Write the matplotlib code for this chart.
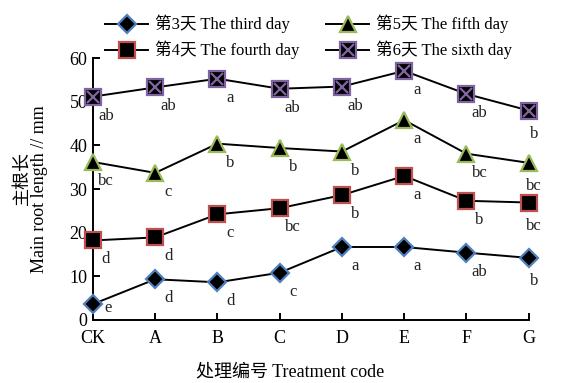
import numpy as np
import matplotlib.pyplot as plt
from matplotlib.legend_handler import HandlerTuple

plt.rcParams['font.family'] = ['Liberation Serif', 'Noto Sans CJK SC']

# Data
treatments = ['CK', 'A', 'B', 'C', 'D', 'E', 'F', 'G']
day3 = [3.6, 9.3, 8.6, 10.8, 16.7, 16.7, 15.4, 14.2]
day4 = [18.2, 18.9, 24.2, 25.6, 28.6, 33.0, 27.3, 26.9]
day5 = [36.2, 33.7, 40.4, 39.4, 38.6, 45.8, 38.1, 36.0]
day6 = [51.2, 53.3, 55.3, 53.0, 53.5, 57.1, 51.8, 48.0]
sig3 = ['e', 'd', 'd', 'c', 'a', 'a', 'ab', 'b']
sig4 = ['d', 'd', 'c', 'bc', 'b', 'a', 'b', 'bc']
sig5 = ['bc', 'c', 'b', 'b', 'b', 'a', 'bc', 'bc']
sig6 = ['ab', 'ab', 'a', 'ab', 'ab', 'a', 'ab', 'b']
labels = ['第3天 The third day', '第4天 The fourth day',
          '第5天 The fifth day', '第6天 The sixth day']

fig = plt.figure(figsize=(5.81, 3.83), dpi=100)
ax = fig.add_axes([0.160, 0.165, 0.750, 0.683])

x = np.arange(len(treatments))
px = 72 / 100  # pixels -> points

l3, = ax.plot(x, day3, '-', color='black', lw=1.4, marker='D', ms=9,
              mfc='black', mec='#4f81bd', mew=1.6, clip_on=False, zorder=3)
l4, = ax.plot(x, day4, '-', color='black', lw=1.4, marker='s', ms=12,
              mfc='black', mec='#c0504d', mew=1.6, clip_on=False, zorder=3)
l5, = ax.plot(x, day5, '-', color='black', lw=1.4, marker='^', ms=12,
              mfc='black', mec='#9bbb59', mew=1.6, clip_on=False, zorder=3)
l6, = ax.plot(x, day6, '-', color='black', lw=1.4, marker='s', ms=12,
              mfc='black', mec='#8064a2', mew=1.6, clip_on=False, zorder=3)
l6x, = ax.plot(x, day6, ls='none', marker='x', ms=9, mec='#8064a2',
               mew=1.6, clip_on=False, zorder=4)

for vals, sig, name in [(day3, sig3, 3), (day4, sig4, 4),
                        (day5, sig5, 5), (day6, sig6, 6)]:
    for i, (v, s) in enumerate(zip(vals, sig)):
        dx, dy = 13, -19
        if i == len(vals) - 1:
            dx, dy = 5, -23
        if name == 3 and i == 0:
            dx, dy = 15, -4
        ax.annotate(s, (x[i], v), xytext=(dx * px, dy * px),
                    textcoords='offset points', ha='center', va='center',
                    fontsize=12, color='#222222')

ax.set_xlim(0, 7)
ax.set_ylim(0, 60)
ax.set_xticks(x)
ax.set_xticklabels(treatments)
ax.set_yticks(np.arange(0, 61, 10))
ax.spines['top'].set_visible(False)
ax.spines['right'].set_visible(False)
for sp in ['left', 'bottom']:
    ax.spines[sp].set_linewidth(1.4)
ax.tick_params(direction='in', length=5, width=1.4, labelsize=13)
ax.tick_params(axis='x', pad=7)
ax.tick_params(axis='y', pad=4)

fig.text(290 / 581, 1 - 372 / 383, '处理编号 Treatment code', fontsize=13,
         ha='center', va='center')
fig.text(22 / 581, 1 - 178 / 383, '主根长', rotation=90, fontsize=13,
         ha='center', va='center')
fig.text(40 / 581, 1 - 189 / 383, 'Main root length // mm', rotation=90,
         fontsize=13, ha='center', va='center')

fig.legend([l3, l4, l5, (l6, l6x)], labels, ncol=2, frameon=False,
           loc='upper left', bbox_to_anchor=(90 / 581, 1 - 0 / 383),
           fontsize=12, handlelength=2.6, columnspacing=1.6,
           labelspacing=0.45, handletextpad=0.4,
           handler_map={tuple: HandlerTuple(ndivide=1)})

fig.savefig('out.png', dpi=100, facecolor='white')
